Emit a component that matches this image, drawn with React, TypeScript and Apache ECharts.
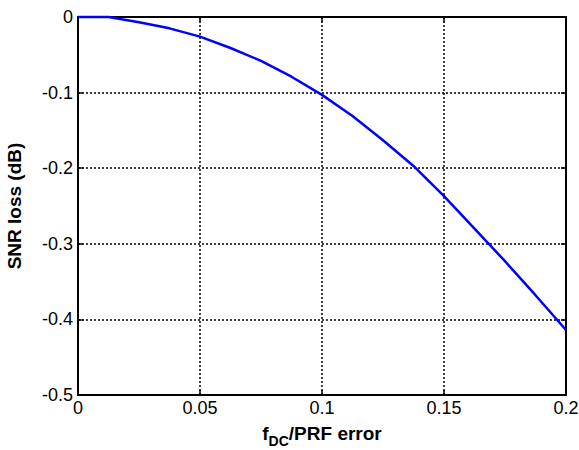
import React, { useEffect, useRef } from "react";
import * as echarts from "echarts";

// f_DC / PRF error values and the corresponding SNR loss in dB
const errorRatio = [0, 0.0125, 0.025, 0.0375, 0.05, 0.0625, 0.075, 0.0875, 0.1, 0.1125, 0.125, 0.1375, 0.15, 0.1625, 0.175, 0.1875, 0.2];
const snrLoss = [0, 0, -0.007, -0.015, -0.026, -0.041, -0.058, -0.079, -0.103, -0.131, -0.163, -0.197, -0.237, -0.28, -0.323, -0.368, -0.414];

// axis ranges and tick steps
const xRange = [0, 0.2];
const xStep = 0.05;
const yRange = [-0.5, 0];
const yStep = 0.1;

const FONT = "'Liberation Sans', Arial, Helvetica, sans-serif";

const fmt = (v: number) => String(parseFloat(v.toFixed(3)));

export default function App() {
  const ref = useRef<HTMLDivElement>(null);

  useEffect(() => {
    if (!ref.current) return;
    const chart = echarts.init(ref.current, undefined, { renderer: "svg" });

    const frameLine = { show: true, onZero: false, lineStyle: { color: "#000", width: 2 } };
    const innerTick = { show: true, inside: true, length: 5, lineStyle: { color: "#000", width: 1.5 } };
    const dotted = { show: true, lineStyle: { color: "#000", width: 1.5, type: [2, 2] as number[] } };

    chart.setOption({
      animation: false,
      backgroundColor: "#fff",
      textStyle: { fontFamily: FONT },
      grid: { left: 78, right: 13, top: 17, bottom: 55, containLabel: false, outerBoundsMode: "none" },
      xAxis: [
        {
          type: "value",
          min: xRange[0],
          max: xRange[1],
          interval: xStep,
          position: "bottom",
          axisLine: frameLine,
          axisTick: innerTick,
          splitLine: dotted,
          axisLabel: { color: "#000", fontSize: 18, fontFamily: FONT, margin: 4, formatter: fmt },
          name: "{a|f}{b|DC}{a|/PRF error}",
          nameLocation: "middle",
          nameGap: 29,
          nameTextStyle: {
            rich: {
              a: { fontSize: 19, fontWeight: "bold", color: "#000", fontFamily: FONT, verticalAlign: "top", lineHeight: 19 },
              b: { fontSize: 14, fontWeight: "bold", color: "#000", fontFamily: FONT, verticalAlign: "bottom", lineHeight: 24 },
            },
          },
        },
        {
          type: "value",
          min: xRange[0],
          max: xRange[1],
          interval: xStep,
          position: "top",
          axisLine: frameLine,
          axisTick: innerTick,
          axisLabel: { show: false },
          splitLine: { show: false },
        },
      ],
      yAxis: [
        {
          type: "value",
          min: yRange[0],
          max: yRange[1],
          interval: yStep,
          position: "left",
          axisLine: frameLine,
          axisTick: innerTick,
          splitLine: dotted,
          axisLabel: { color: "#000", fontSize: 18, fontFamily: FONT, margin: 5, formatter: fmt },
          name: "SNR loss (dB)",
          nameLocation: "middle",
          nameRotate: 90,
          nameGap: 54,
          nameTextStyle: { fontSize: 19, fontWeight: "bold", color: "#000", fontFamily: FONT },
        },
        {
          type: "value",
          min: yRange[0],
          max: yRange[1],
          interval: yStep,
          position: "right",
          axisLine: frameLine,
          axisTick: innerTick,
          axisLabel: { show: false },
          splitLine: { show: false },
        },
      ],
      series: [
        {
          type: "line",
          data: errorRatio.map((x, i) => [x, snrLoss[i]]),
          showSymbol: false,
          symbol: "none",
          lineStyle: { color: "#0000ff", width: 2.5 },
          clip: false,
          z: 5,
        },
      ],
    });

    return () => chart.dispose();
  }, []);

  return (
    <div
      ref={ref}
      style={{ position: "fixed", left: 0, top: 0, width: 579, height: 450, background: "#fff" }}
    />
  );
}
